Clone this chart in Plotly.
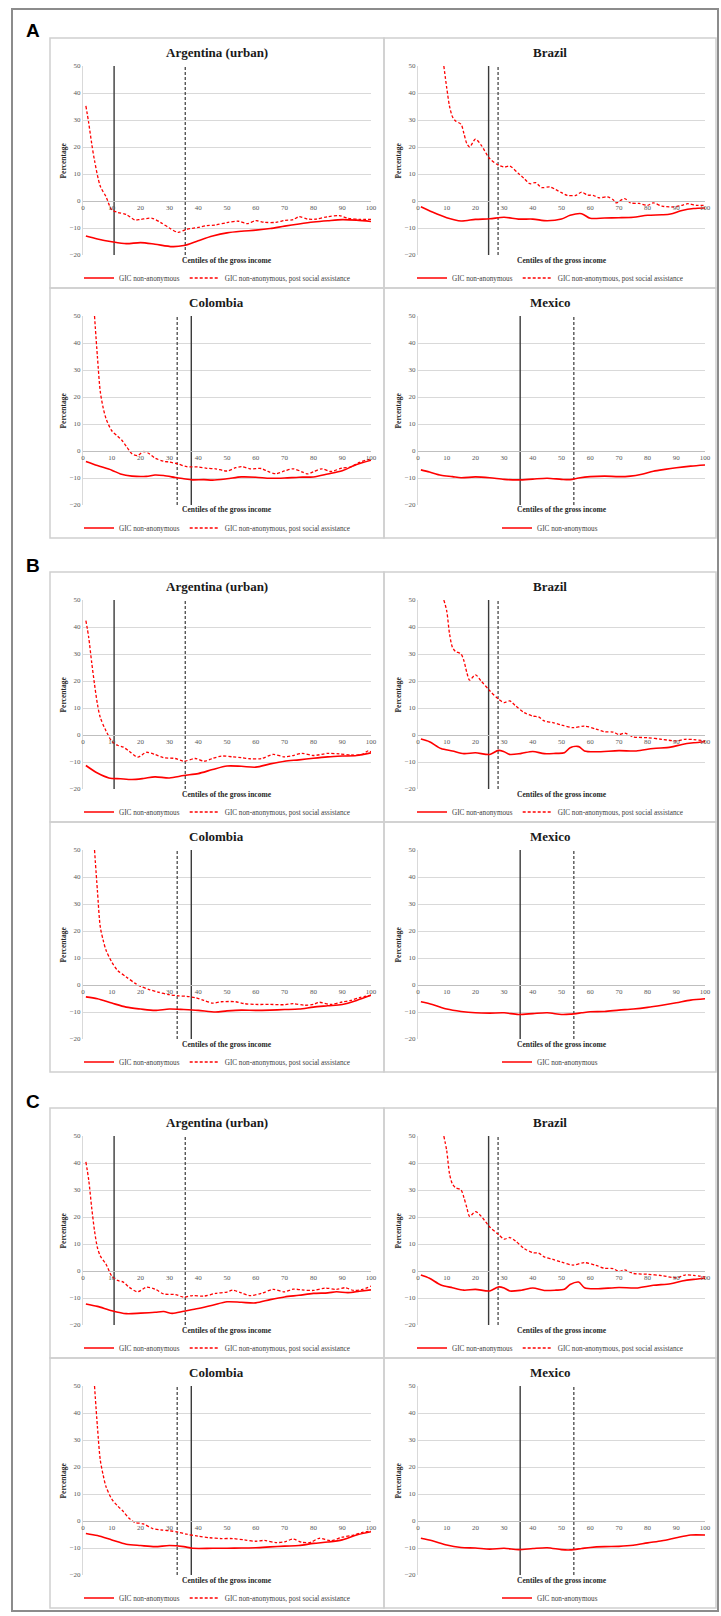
import plotly.graph_objects as go

# ---------------- data ----------------
PANEL_LETTERS = ["A", "B", "C"]
COUNTRIES = ["Argentina (urban)", "Brazil", "Colombia", "Mexico"]
VLINE_SOLID = [10.8, 24.6, 37.6, 35.6]
VLINE_DASHED = [35.5, 27.9, 32.7, 54.3]
LEGEND_GIC = "GIC non-anonymous"
LEGEND_PSA = "GIC non-anonymous, post social assistance"
X_TITLE = "Centiles of the gross income"
Y_TITLE = "Percentage"
Y_RANGE = [-20, 50]
X_RANGE = [0, 100]
X_TICKS = [0, 10, 20, 30, 40, 50, 60, 70, 80, 90, 100]
Y_TICKS = [-20, -10, 0, 10, 20, 30, 40, 50]

# Panel A
ARG_A_GIC_X = [1, 5, 10, 15, 20, 25, 31, 35, 40, 45, 50, 55, 60, 65, 70, 75, 80, 85, 90, 95, 100]
ARG_A_GIC = [-13.0, -14.1, -15.1, -15.8, -15.4, -16.0, -16.9, -16.5, -14.7, -13.0, -11.8, -11.2, -10.8, -10.2, -9.3, -8.5, -7.8, -7.3, -6.9, -7.1, -7.6]
ARG_A_PSA_X = [1, 2, 3, 4, 6, 8, 10, 12, 15, 18, 20, 24, 27, 30, 33, 36, 40, 43, 46, 50, 54, 57, 60, 63, 67, 70, 73, 75, 78, 81, 85, 89, 92, 96, 100]
ARG_A_PSA = [35.2, 28.8, 21.4, 15.0, 5.5, 1.6, -3.3, -4.2, -5.0, -7.0, -6.8, -6.4, -8.0, -10.0, -11.6, -10.5, -9.8, -9.1, -8.9, -8.0, -7.5, -8.4, -7.3, -7.9, -7.9, -7.2, -6.9, -5.8, -6.7, -6.7, -5.8, -5.4, -6.4, -6.8, -6.8]

BRA_A_GIC_X = [1, 5, 10, 15, 20, 25, 30, 35, 40, 45, 50, 53, 57, 60, 65, 70, 75, 80, 85, 88, 92, 96, 100]
BRA_A_GIC = [-2.1, -4.1, -6.2, -7.4, -6.8, -6.6, -6.0, -6.7, -6.7, -7.3, -6.7, -5.3, -4.7, -6.4, -6.3, -6.2, -6.0, -5.3, -5.1, -4.8, -3.5, -2.8, -2.6]
BRA_A_PSA_X = [9, 10, 11, 12, 13, 15, 16, 17, 18, 20, 22, 25, 28, 30, 32, 35, 37, 39, 41, 43, 46, 48, 50, 52, 55, 57, 59, 61, 63, 66, 68, 69, 72, 74, 77, 80, 82, 85, 89, 92, 94, 97, 100]
BRA_A_PSA = [50.0, 42.0, 35.0, 31.2, 29.7, 28.4, 25.0, 21.3, 20.0, 22.9, 20.7, 15.7, 13.3, 12.6, 12.9, 10.2, 8.3, 6.4, 6.8, 5.0, 5.2, 4.2, 3.1, 2.1, 2.1, 3.3, 2.2, 2.1, 1.2, 1.5, 0.5, -0.7, 0.9, -0.7, -0.9, -1.6, -0.7, -1.9, -2.2, -1.6, -1.0, -1.6, -1.6]

COL_A_GIC_X = [1, 5, 10, 13, 17, 22, 25, 28, 32, 35, 38, 42, 45, 50, 55, 60, 65, 70, 75, 80, 85, 90, 95, 100]
COL_A_GIC = [-3.9, -5.4, -7.1, -8.5, -9.3, -9.4, -8.9, -9.1, -9.8, -10.3, -10.7, -10.6, -10.8, -10.3, -9.6, -9.7, -10.1, -10.0, -9.7, -9.6, -8.5, -7.3, -5.0, -3.4]
COL_A_PSA_X = [4, 5, 6, 7, 8, 10, 12, 13.5, 15, 17, 19, 21, 23, 25, 28, 30, 33, 36, 40, 43, 46, 50, 53, 55, 58, 62, 64, 67, 70, 73, 76, 78, 80, 83, 86, 90, 93, 96, 99, 100]
COL_A_PSA = [50.0, 35.0, 22.0, 16.0, 12.0, 7.5, 5.5, 4.0, 1.8, -1.0, -1.7, -0.2, -1.0, -2.6, -3.8, -4.1, -4.8, -5.8, -5.9, -6.4, -6.6, -7.4, -6.2, -5.8, -6.6, -6.5, -7.5, -8.4, -7.4, -6.6, -7.7, -8.5, -7.7, -6.6, -7.6, -6.3, -5.9, -4.2, -3.2, -3.2]

MEX_A_GIC_X = [1, 4, 8, 12, 15, 20, 25, 30, 35, 40, 45, 50, 53, 56, 60, 65, 70, 74, 78, 82, 86, 90, 95, 100]
MEX_A_GIC = [-7.0, -7.8, -9.0, -9.5, -9.9, -9.6, -9.9, -10.5, -10.7, -10.4, -10.1, -10.5, -10.6, -10.0, -9.5, -9.3, -9.5, -9.3, -8.6, -7.5, -6.8, -6.2, -5.6, -5.2]

# Panel B
ARG_B_GIC_X = [1, 5, 9, 13, 17, 21, 25, 30, 35, 40, 45, 50, 55, 60, 65, 70, 75, 80, 85, 90, 95, 100]
ARG_B_GIC = [-11.3, -14.1, -15.9, -16.2, -16.5, -16.1, -15.5, -15.9, -15.0, -14.3, -12.8, -11.5, -11.6, -11.9, -10.7, -9.7, -9.2, -8.6, -8.1, -7.8, -7.6, -6.6]
ARG_B_PSA_X = [1, 2, 3, 4, 5, 6, 8, 10, 12, 14, 16, 19, 22, 25, 28, 32, 35, 39, 42, 45, 48, 52, 55, 58, 62, 66, 70, 73, 76, 80, 85, 89, 93, 97, 99, 100]
ARG_B_PSA = [42.4, 36.0, 27.0, 18.8, 11.5, 6.5, 1.5, -2.3, -3.8, -4.5, -6.0, -8.2, -6.4, -7.2, -8.4, -8.7, -9.7, -8.7, -9.7, -8.7, -7.8, -8.1, -8.4, -8.8, -8.7, -7.2, -8.1, -7.6, -6.8, -7.6, -6.8, -7.0, -7.4, -7.2, -5.9, -6.3]

BRA_B_GIC_X = [1, 4, 8, 12, 16, 20, 25, 28, 30, 32, 36, 40, 44, 48, 51, 53, 56, 58, 62, 70, 76, 82, 88, 92, 96, 100]
BRA_B_GIC = [-1.5, -2.5, -5.0, -5.9, -6.9, -6.6, -7.2, -5.7, -6.2, -7.2, -6.8, -6.1, -6.9, -6.8, -6.6, -4.7, -4.3, -5.9, -6.2, -5.8, -5.9, -5.0, -4.5, -3.5, -2.9, -2.5]
BRA_B_PSA_X = [9, 10, 11, 12, 13, 15, 16, 17, 18, 20, 22, 25, 28, 30, 32, 34, 37, 40, 42, 44, 47, 50, 54, 58, 62, 65, 68, 70, 72, 75, 80, 85, 90, 93, 96, 100]
BRA_B_PSA = [50.0, 46.0, 37.4, 32.5, 31.0, 30.0, 27.5, 23.2, 20.3, 22.3, 20.0, 16.4, 13.3, 12.0, 12.6, 10.8, 8.3, 7.0, 6.7, 5.2, 4.6, 3.7, 2.7, 3.3, 2.2, 1.2, 1.1, 0.2, 0.7, -0.7, -1.0, -1.6, -2.2, -1.6, -1.7, -2.2]

COL_B_GIC_X = [1, 5, 10, 15, 20, 25, 30, 35, 40, 46, 50, 55, 60, 65, 70, 75, 80, 85, 90, 95, 100]
COL_B_GIC = [-4.4, -5.1, -6.7, -8.2, -8.9, -9.4, -8.9, -9.1, -9.4, -10.0, -9.6, -9.3, -9.4, -9.3, -9.1, -8.9, -8.2, -7.7, -7.2, -5.7, -3.8]
COL_B_PSA_X = [4, 5, 6, 7, 8, 10, 12, 15, 18, 20, 23, 26, 30, 33, 36, 39, 42, 45, 48, 53, 56, 60, 65, 70, 73, 77, 80, 82, 86, 90, 93, 96, 100]
COL_B_PSA = [50.0, 35.0, 21.5, 16.6, 12.9, 8.5, 5.4, 3.0, 0.7, -0.5, -1.7, -2.6, -3.6, -4.0, -4.2, -4.7, -5.7, -6.7, -6.2, -6.2, -6.9, -7.2, -7.2, -7.3, -6.9, -7.5, -7.2, -6.4, -7.2, -6.3, -5.7, -4.7, -3.8]

MEX_B_GIC_X = [1, 5, 10, 15, 20, 25, 30, 35, 40, 45, 50, 53, 57, 60, 65, 70, 75, 80, 85, 90, 95, 100]
MEX_B_GIC = [-6.2, -7.2, -8.9, -9.8, -10.3, -10.4, -10.3, -10.9, -10.6, -10.3, -10.9, -10.8, -10.3, -9.9, -9.8, -9.3, -8.9, -8.3, -7.5, -6.6, -5.6, -5.1]

# Panel C
ARG_C_GIC_X = [1, 5, 10, 15, 20, 25, 28, 31, 35, 40, 45, 50, 55, 60, 65, 70, 75, 80, 85, 88, 92, 96, 100]
ARG_C_GIC = [-12.2, -13.1, -14.7, -15.8, -15.6, -15.3, -15.0, -15.7, -14.9, -13.9, -12.7, -11.4, -11.6, -11.8, -10.6, -9.6, -9.0, -8.3, -8.1, -7.7, -8.0, -7.5, -7.0]
ARG_C_PSA_X = [1, 2, 3, 4, 5, 6, 8, 10, 12, 14, 16, 19, 22, 25, 28, 32, 35, 38, 42, 46, 50, 52, 55, 58, 62, 66, 70, 73, 76, 80, 84, 88, 91, 94, 97, 100]
ARG_C_PSA = [40.4, 33.6, 23.6, 14.9, 8.7, 5.6, 2.5, -1.9, -3.5, -4.1, -6.0, -7.7, -6.0, -6.7, -8.5, -8.7, -9.7, -9.1, -9.3, -8.3, -7.8, -7.1, -8.1, -9.1, -8.3, -6.8, -7.7, -6.7, -7.0, -7.2, -6.3, -6.8, -6.2, -7.2, -6.8, -5.6]

BRA_C_GIC_X = [1, 4, 8, 12, 16, 20, 25, 28, 30, 32, 36, 40, 44, 48, 51, 53, 56, 58, 62, 70, 76, 82, 88, 92, 96, 100]
BRA_C_GIC = [-1.5, -2.7, -5.2, -6.2, -7.1, -6.8, -7.4, -5.9, -6.3, -7.4, -7.1, -6.3, -7.2, -7.1, -6.8, -5.0, -4.1, -6.2, -6.6, -6.1, -6.3, -5.3, -4.7, -3.7, -3.1, -2.7]
BRA_C_PSA_X = [9, 10, 11, 12, 13, 15, 16, 17, 18, 20, 22, 25, 28, 30, 32, 34, 37, 40, 42, 44, 47, 50, 54, 58, 62, 65, 68, 70, 72, 75, 80, 85, 90, 93, 96, 100]
BRA_C_PSA = [50.0, 44.6, 35.9, 32.2, 30.9, 30.0, 27.2, 23.5, 20.2, 22.0, 20.3, 16.3, 13.6, 11.8, 12.4, 11.1, 8.3, 6.8, 6.6, 5.2, 4.3, 3.3, 2.2, 3.1, 2.1, 1.0, 0.9, -0.2, 0.4, -0.9, -1.2, -1.7, -2.5, -1.5, -1.6, -2.2]

COL_C_GIC_X = [1, 5, 10, 15, 20, 25, 30, 35, 38, 45, 50, 55, 60, 65, 70, 75, 80, 85, 90, 95, 100]
COL_C_GIC = [-4.6, -5.4, -7.0, -8.6, -9.1, -9.5, -9.1, -9.5, -10.1, -10.1, -10.1, -10.0, -9.9, -9.6, -9.3, -9.1, -8.3, -7.8, -7.0, -5.2, -4.0]
COL_C_PSA_X = [4, 5, 6, 7, 8, 10, 12, 14, 16, 18, 21, 24, 27, 30, 33, 36, 40, 44, 48, 52, 56, 60, 63, 67, 70, 73, 76, 79, 82, 86, 90, 94, 97, 100]
COL_C_PSA = [50.0, 35.0, 22.6, 17.0, 12.7, 8.1, 5.6, 3.5, 1.0, -0.5, -1.1, -2.7, -3.3, -3.6, -4.1, -4.9, -5.6, -6.2, -6.5, -6.5, -7.0, -7.5, -7.2, -8.0, -7.7, -6.7, -7.9, -7.9, -6.4, -7.3, -6.0, -5.2, -4.2, -3.7]

MEX_C_GIC_X = [1, 5, 10, 15, 20, 25, 30, 35, 40, 45, 50, 53, 57, 60, 65, 70, 75, 80, 85, 90, 95, 100]
MEX_C_GIC = [-6.4, -7.3, -8.9, -9.8, -10.0, -10.4, -10.1, -10.6, -10.2, -9.9, -10.6, -10.7, -10.2, -9.8, -9.5, -9.4, -9.0, -8.1, -7.3, -6.2, -5.2, -5.2]

SERIES = {
    ("A", "Argentina (urban)"): ((ARG_A_GIC_X, ARG_A_GIC), (ARG_A_PSA_X, ARG_A_PSA)),
    ("A", "Brazil"): ((BRA_A_GIC_X, BRA_A_GIC), (BRA_A_PSA_X, BRA_A_PSA)),
    ("A", "Colombia"): ((COL_A_GIC_X, COL_A_GIC), (COL_A_PSA_X, COL_A_PSA)),
    ("A", "Mexico"): ((MEX_A_GIC_X, MEX_A_GIC), None),
    ("B", "Argentina (urban)"): ((ARG_B_GIC_X, ARG_B_GIC), (ARG_B_PSA_X, ARG_B_PSA)),
    ("B", "Brazil"): ((BRA_B_GIC_X, BRA_B_GIC), (BRA_B_PSA_X, BRA_B_PSA)),
    ("B", "Colombia"): ((COL_B_GIC_X, COL_B_GIC), (COL_B_PSA_X, COL_B_PSA)),
    ("B", "Mexico"): ((MEX_B_GIC_X, MEX_B_GIC), None),
    ("C", "Argentina (urban)"): ((ARG_C_GIC_X, ARG_C_GIC), (ARG_C_PSA_X, ARG_C_PSA)),
    ("C", "Brazil"): ((BRA_C_GIC_X, BRA_C_GIC), (BRA_C_PSA_X, BRA_C_PSA)),
    ("C", "Colombia"): ((COL_C_GIC_X, COL_C_GIC), (COL_C_PSA_X, COL_C_PSA)),
    ("C", "Mexico"): ((MEX_C_GIC_X, MEX_C_GIC), None),
}

# ---------------- layout geometry (pixels) ----------------
FIG_W, FIG_H = 721, 1616
PANEL_TOP = [38, 572, 1108]
BOX_H = 250
BOX_X = [(50, 384), (384, 716)]
PLOT_X = [(83, 371), (418, 705)]
PLOT_TOP_OFF, PLOT_BOT_OFF = 28, 217
SERIF = "Liberation Serif"
RED = "#FF0000"
GRID = "#D9D9D9"


def fx(px):
    return px / FIG_W


def fy(py):
    return 1 - py / FIG_H


fig = go.Figure()
layout = dict(
    width=FIG_W, height=FIG_H,
    margin=dict(l=0, r=0, t=0, b=0, pad=0, autoexpand=False),
    paper_bgcolor="white", plot_bgcolor="white",
    showlegend=True,
    font=dict(family=SERIF, color="#404040"),
)
annotations = []
shapes = []

# outer frame
shapes.append(dict(type="rect", xref="paper", yref="paper",
                   x0=fx(12), x1=fx(718), y0=fy(1611), y1=fy(9),
                   line=dict(color="#8C8C8C", width=2), layer="above"))

n = 0
for p, letter in enumerate(PANEL_LETTERS):
    top = PANEL_TOP[p]
    annotations.append(dict(text="<b>%s</b>" % letter, xref="paper", yref="paper",
                            x=fx(33), y=fy(top - 7), xanchor="center", yanchor="middle",
                            showarrow=False,
                            font=dict(family="Liberation Sans", size=19, color="#000000")))
    for r in range(2):
        for c in range(2):
            n += 1
            country = COUNTRIES[r * 2 + c]
            btop = top + r * BOX_H
            bx0, bx1 = BOX_X[c]
            px0, px1 = PLOT_X[c]
            xname = "xaxis" if n == 1 else "xaxis%d" % n
            yname = "yaxis" if n == 1 else "yaxis%d" % n
            xref = "x" if n == 1 else "x%d" % n
            yref = "y" if n == 1 else "y%d" % n
            lname = "legend" if n == 1 else "legend%d" % n

            ydom = [fy(btop + PLOT_BOT_OFF), fy(btop + PLOT_TOP_OFF)]
            zero_pos = ydom[0] + (0 - Y_RANGE[0]) / (Y_RANGE[1] - Y_RANGE[0]) * (ydom[1] - ydom[0])

            layout[xname] = dict(
                domain=[fx(px0), fx(px1)], range=X_RANGE, anchor="free", position=zero_pos,
                tickvals=X_TICKS, showgrid=False, zeroline=False, showline=True,
                linecolor="#BFBFBF", linewidth=1, ticks="", automargin=False,
                tickfont=dict(family=SERIF, size=7, color="#595959"), fixedrange=True,
            )
            layout[yname] = dict(
                domain=ydom, range=Y_RANGE, anchor=xref, tickvals=Y_TICKS,
                showgrid=True, gridcolor=GRID, gridwidth=0.8, zeroline=False,
                showline=True, linecolor=GRID, linewidth=1, ticks="", automargin=False,
                tickfont=dict(family=SERIF, size=7, color="#595959"), fixedrange=True,
            )
            layout[lname] = dict(
                x=fx((bx0 + bx1) / 2), y=fy(btop + 240), xanchor="center", yanchor="middle",
                orientation="h", bgcolor="rgba(0,0,0,0)", itemwidth=30, tracegroupgap=0,
                font=dict(family=SERIF, size=7.2, color="#404040"),
            )

            # box border
            shapes.append(dict(type="rect", xref="paper", yref="paper",
                               x0=fx(bx0), x1=fx(bx1), y0=fy(btop + BOX_H), y1=fy(btop),
                               line=dict(color="#D0D0D0", width=1.5), layer="below"))
            # titles
            annotations.append(dict(text="<b>%s</b>" % country, xref="paper", yref="paper",
                                    x=fx((bx0 + bx1) / 2), y=fy(btop + 14),
                                    xanchor="center", yanchor="middle", showarrow=False,
                                    font=dict(family=SERIF, size=13, color="#1A1A1A")))
            annotations.append(dict(text="<b>%s</b>" % X_TITLE, xref="paper", yref="paper",
                                    x=fx((px0 + px1) / 2), y=fy(btop + 222),
                                    xanchor="center", yanchor="middle", showarrow=False,
                                    font=dict(family=SERIF, size=7.5, color="#262626")))
            annotations.append(dict(text="<b>%s</b>" % Y_TITLE, xref="paper", yref="paper",
                                    x=fx(px0 - 20), y=(ydom[0] + ydom[1]) / 2, textangle=-90,
                                    xanchor="center", yanchor="middle", showarrow=False,
                                    font=dict(family=SERIF, size=7.5, color="#262626")))

            # threshold vertical lines
            ci = COUNTRIES.index(country)
            fig.add_trace(go.Scatter(x=[VLINE_SOLID[ci]] * 2, y=Y_RANGE, mode="lines",
                                     line=dict(color="#3A3A3A", width=1.4),
                                     showlegend=False, hoverinfo="skip", xaxis=xref, yaxis=yref))
            fig.add_trace(go.Scatter(x=[VLINE_DASHED[ci]] * 2, y=Y_RANGE, mode="lines",
                                     line=dict(color="#3A3A3A", width=1.2, dash="3px,2px"),
                                     showlegend=False, hoverinfo="skip", xaxis=xref, yaxis=yref))

            gic, psa = SERIES[(letter, country)]
            fig.add_trace(go.Scatter(x=gic[0], y=gic[1], mode="lines", name=LEGEND_GIC,
                                     line=dict(color=RED, width=1.6, shape="spline", smoothing=0.8),
                                     legend=lname, xaxis=xref, yaxis=yref))
            if psa is not None:
                fig.add_trace(go.Scatter(x=psa[0], y=psa[1], mode="lines", name=LEGEND_PSA,
                                         line=dict(color=RED, width=1.3, dash="3px,2px",
                                                   shape="spline", smoothing=0.8),
                                         legend=lname, xaxis=xref, yaxis=yref))

layout["annotations"] = annotations
layout["shapes"] = shapes
fig.update_layout(**layout)
fig.write_html("out.html", config={"displayModeBar": False},
               post_script="document.body.style.margin='0px';document.body.style.padding='0px';")
